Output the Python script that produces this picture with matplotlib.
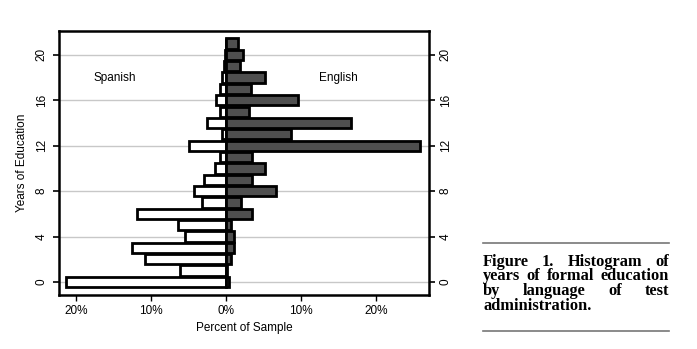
import numpy as np
import matplotlib
matplotlib.use("Agg")
import matplotlib.pyplot as plt

# years of formal education, 0..21
years = np.arange(0, 22)

# percent of sample per year (Spanish drawn to the left, English to the right)
spanish = [21.4, 6.2, 10.9, 12.6, 5.5, 6.4, 11.9, 3.2, 4.3, 3.0, 1.5,
           0.8, 4.9, 0.5, 2.6, 0.8, 1.4, 0.8, 0.55, 0.25, 0.1, 0.0]
english = [0.4, 0.1, 0.6, 1.0, 1.1, 0.7, 3.4, 2.0, 6.7, 3.5, 5.2,
           3.4, 25.8, 8.6, 16.7, 3.0, 9.6, 3.3, 5.2, 1.8, 2.2, 1.6]

xticks = [-20, -10, 0, 10, 20]
xticklabels = ["20%", "10%", "0%", "10%", "20%"]
yticks = [0, 4, 8, 12, 16, 20]

caption = [
    "Figure 1. Histogram of",
    "years of formal education",
    "by language of test",
    "administration.",
]

plt.rcParams["font.family"] = ["Liberation Sans", "DejaVu Sans"]

fig = plt.figure(figsize=(6.97, 3.49), dpi=100)
ax = fig.add_axes([0.0847, 0.1547, 0.5303, 0.7563])

bar_h = 0.9
ax.barh(years, [-v for v in spanish], height=bar_h, color="white",
        edgecolor="black", linewidth=2.0, zorder=3)
ax.barh(years, english, height=bar_h, color="#4f4f4f",
        edgecolor="black", linewidth=2.0, zorder=4)

ax.set_xlim(-22.3, 27.0)
ax.set_ylim(-1.15, 22.1)
ax.set_xticks(xticks)
ax.set_xticklabels(xticklabels, fontsize=8.5)
ax.set_yticks(yticks)
ax.set_yticklabels([str(t) for t in yticks], fontsize=8.5, va="center")
ax.tick_params(axis="y", right=True, labelright=True, direction="out",
               length=4, width=1.2, pad=4, labelrotation=90)
ax.tick_params(axis="x", direction="out", length=4, width=1.0, pad=3)

ax.grid(axis="y", color="#c8c8c8", linewidth=1.0, zorder=0)
ax.set_axisbelow(True)
for sp in ax.spines.values():
    sp.set_linewidth(1.8)

ax.set_xlabel("Percent of Sample", fontsize=8.5, labelpad=4)
ax.set_ylabel("Years of Education", fontsize=8.5, labelpad=6)

ax.text(-14.9, 18, "Spanish", fontsize=8.5, ha="center", va="center")
ax.text(14.9, 18, "English", fontsize=8.5, ha="center", va="center")

# caption with rules above and below, justified text
x0, x1 = 483 / 697, 669 / 697
fig.add_artist(plt.Line2D([x0, x1], [1 - 243 / 349] * 2, color="#777777", linewidth=1.2))
fig.add_artist(plt.Line2D([x0, x1], [1 - 331 / 349] * 2, color="#777777", linewidth=1.2))

fig.canvas.draw()
renderer = fig.canvas.get_renderer()
fig_w = fig.bbox.width
line_y0 = 1 - 262 / 349
line_step = 14.5 / 349
cap_kw = dict(fontsize=11.8, fontweight="bold", family="Liberation Serif",
              va="center", ha="left")
for i, line in enumerate(caption):
    y = line_y0 - i * line_step
    words = line.split()
    texts = [fig.text(0, y, w, **cap_kw) for w in words]
    widths = [t.get_window_extent(renderer).width / fig_w for t in texts]
    if i < len(caption) - 1 and len(words) > 1:
        gap = (x1 - x0 - sum(widths)) / (len(words) - 1)
    else:
        gap = 4.0 / fig_w
    x = x0
    for t, w in zip(texts, widths):
        t.set_x(x)
        x += w + gap

fig.savefig("out.png", dpi=100)
plt.close(fig)
